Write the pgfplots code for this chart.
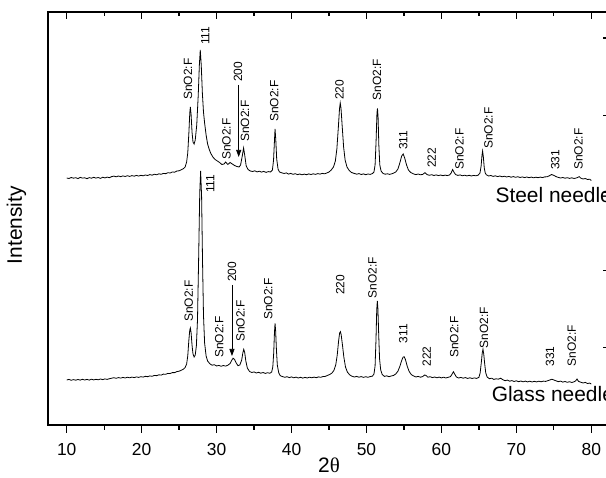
\documentclass[border=0pt]{standalone}
\usepackage{fontspec}
\setmainfont{Liberation Sans}
\newfontfamily\serifgr{Liberation Serif}
\usepackage{pgfplots}
\pgfplotsset{compat=1.18}
\usetikzlibrary{arrows.meta}

\begin{document}
\begin{tikzpicture}
\tikzset{lab/.style={rotate=90, anchor=west, inner sep=0pt, font=\fontsize{12}{14}\selectfont}}
\pgfplotsset{
  common/.style={
    scale only axis, width=562bp, height=413bp,
    xmin=7.5, xmax=82.5, ymin=0, ymax=413,
    xtick={10,20,...,80}, minor x tick num=1,
    major tick length=7.5bp, minor tick length=4.5bp,
    axis line style={line width=1.4bp},
    tick style={line width=1.3bp, black},
    minor tick style={line width=1.3bp, black},
    /pgf/number format/assume math mode=true,
    tick label style={font=\fontsize{17.5}{20}\selectfont},
  },
}
\begin{axis}[common, tick align=outside, xtick pos=left, ytick pos=left,
  ytick=\empty, minor ytick={77.4,154.8,232.2,309.6,387},
  xticklabel style={anchor=center, yshift=-17bp},
  xlabel={2{\serifgr θ}},
  xlabel style={at={(axis description cs:0.5,-0.097)}, anchor=center, font=\fontsize{21}{25}\selectfont},
  ylabel={Intensity},
  ylabel style={at={(axis description cs:-0.056,0.484)}, anchor=center, font=\fontsize{21}{25}\selectfont},
]
% Steel needle
\addplot[black, line width=0.8bp, mark=none] coordinates {
(10.0,247.0)(10.3,246.5)(10.6,247.5)(10.9,246.8)(11.2,247.3)(11.5,246.4)(11.8,247.6)(12.1,246.9)(12.4,247.2)(12.7,246.3)
(13.0,247.4)(13.3,246.8)(13.6,247.7)(13.9,246.9)(14.2,247.5)(14.5,246.6)(14.8,247.8)(15.1,247.1)(15.4,247.9)(15.7,247.3)
(16.0,248.4)(16.3,248.9)(16.6,248.2)(16.9,249.0)(17.2,248.3)(17.5,249.1)(17.8,248.5)(18.1,249.3)(18.4,248.6)(18.7,249.4)
(19.0,248.8)(19.3,249.6)(19.6,248.9)(19.9,249.7)(20.2,249.2)(20.5,250.0)(20.8,249.5)(21.1,250.4)(21.4,249.8)(21.7,250.8)
(22.0,250.2)(22.3,251.2)(22.6,250.7)(22.9,251.6)(23.2,251.3)(23.5,252.3)(23.8,252.0)(24.1,253.0)(24.4,252.8)(24.7,254.0)
(25.0,254.2)(25.3,255.3)(25.6,256.5)(25.8,258)(26.0,263)(26.15,272)(26.3,292)(26.42,312)(26.5,318)(26.6,310)
(26.72,293)(26.85,283)(27.0,281)(27.15,285)(27.35,300)(27.55,330)(27.7,360)(27.82,375)(27.95,360)(28.1,332)
(28.25,313)(28.4,302)(28.6,290)(28.8,281)(29.0,276)(29.2,272)(29.5,268)(29.8,265.5)(30.1,264)(30.4,262.5)
(30.7,260.5)(31.0,261)(31.2,263)(31.5,260.5)(31.8,262.5)(32.1,261)(32.4,259.5)(32.7,258.5)(33.0,258)(33.2,260)
(33.45,270)(33.6,277)(33.75,270)(33.95,259)(34.2,255.5)(34.5,254)(34.8,253.5)(35.1,254.2)(35.4,253.1)(35.7,253.8)
(36.0,252.9)(36.3,253.6)(36.6,252.6)(36.9,253.4)(37.2,253.0)(37.45,255)(37.6,265)(37.72,284)(37.8,296)(37.9,285)
(38.02,266)(38.2,256)(38.4,253)(38.7,252.2)(39.0,251.5)(39.3,252.1)(39.6,250.9)(39.9,251.6)(40.2,250.7)(40.5,251.3)
(40.8,250.4)(41.1,251.0)(41.4,250.2)(41.7,250.9)(42.0,250.3)(42.3,251.1)(42.6,250.5)(42.9,251.2)(43.2,250.6)(43.5,251.4)
(43.8,250.9)(44.1,251.6)(44.4,251.2)(44.7,252)(45.0,253)(45.3,255)(45.6,258)(45.85,264)(46.05,276)(46.25,298)
(46.4,316)(46.5,322)(46.6,317)(46.75,300)(46.95,278)(47.15,265)(47.4,258)(47.7,254.5)(48.0,252.5)(48.4,251.5)
(48.7,250.8)(49.0,251.4)(49.3,250.5)(49.6,251.1)(49.9,250.3)(50.2,251.0)(50.5,250.6)(50.8,251.5)(51.0,253)(51.15,260)
(51.28,283)(51.4,312)(51.47,316.5)(51.55,308)(51.65,280)(51.78,260)(51.95,254)(52.2,251.6)(52.5,250.8)(52.8,251.2)
(53.1,250.6)(53.5,251.5)(53.9,253)(54.2,256)(54.45,262)(54.7,269)(54.9,271)(55.1,267)(55.35,260)(55.6,255)
(55.9,252.5)(56.3,251)(56.6,250.4)(56.9,251.0)(57.2,250.2)(57.5,250.6)(57.8,252.3)(58.1,250.4)(58.4,249.7)(58.7,250.3)
(59.0,249.5)(59.3,250.1)(59.6,249.4)(59.9,250.0)(60.2,249.3)(60.5,249.9)(60.8,249.4)(61.1,250.1)(61.3,252)(61.5,255.5)
(61.7,252.5)(61.9,250.4)(62.2,249.6)(62.5,250.1)(62.8,249.2)(63.1,249.8)(63.4,249.1)(63.7,249.7)(64.0,249.0)(64.3,249.6)
(64.6,249.2)(64.9,249.8)(65.15,252)(65.3,259)(65.42,270)(65.5,274)(65.6,268)(65.72,257)(65.85,252)(66.0,250.2)
(66.3,249.0)(66.6,249.5)(66.9,248.6)(67.2,249.2)(67.5,248.4)(67.8,249.0)(68.1,248.2)(68.4,248.8)(68.7,248.0)(69.0,248.6)
(69.3,247.8)(69.6,248.4)(69.9,247.7)(70.2,248.3)(70.5,247.5)(70.8,248.1)(71.1,247.4)(71.4,248.0)(71.7,247.3)(72.0,247.9)
(72.3,247.2)(72.6,247.8)(72.9,247.3)(73.2,247.9)(73.5,247.4)(73.8,248.1)(74.1,248.2)(74.4,249.2)(74.7,250.5)(75.0,249.6)
(75.3,248.4)(75.6,247.6)(75.9,247.0)(76.2,247.5)(76.5,246.8)(76.8,247.3)(77.1,246.6)(77.4,247.2)(77.7,246.5)(78.0,247.0)
(78.2,247.6)(78.4,248.4)(78.6,246.9)(78.9,246.0)(79.2,246.5)(79.5,245.5)(79.8,245.8)(80.0,244.5)
};
% Glass needle
\addplot[black, line width=0.8bp, mark=none] coordinates {
(10.0,45.0)(10.3,45.6)(10.6,44.7)(10.9,45.4)(11.2,44.8)(11.5,45.5)(11.8,44.9)(12.1,45.7)(12.4,45.0)(12.7,45.6)
(13.0,44.9)(13.3,45.8)(13.6,45.1)(13.9,45.7)(14.2,45.2)(14.5,46.0)(14.8,45.4)(15.1,46.1)(15.4,45.6)(15.7,46.3)
(16.0,46.8)(16.3,47.3)(16.6,46.7)(16.9,47.4)(17.2,46.9)(17.5,47.6)(17.8,47.0)(18.1,47.8)(18.4,47.2)(18.7,47.9)
(19.0,47.4)(19.3,48.1)(19.6,47.6)(19.9,48.3)(20.2,47.9)(20.5,48.7)(20.8,48.3)(21.1,49.1)(21.4,48.7)(21.7,49.6)
(22.0,49.3)(22.3,50.2)(22.6,49.9)(22.9,50.9)(23.2,50.7)(23.5,51.6)(23.8,51.5)(24.1,52.4)(24.4,52.4)(24.7,53.4)
(25.0,53.8)(25.3,54.8)(25.6,56)(25.8,57.5)(26.0,61)(26.15,69)(26.3,85)(26.42,95)(26.5,97)(26.6,92)
(26.72,80)(26.85,71)(27.0,68)(27.15,70)(27.3,79)(27.45,105)(27.6,165)(27.75,232)(27.87,254)(28.0,228)
(28.12,165)(28.25,110)(28.4,82)(28.6,69)(28.8,64)(29.1,61.2)(29.4,59.8)(29.7,60.3)(30.0,59.0)(30.3,59.6)
(30.6,58.7)(30.9,59.5)(31.2,58.9)(31.5,59.8)(31.8,61.5)(32.0,64.5)(32.2,66.8)(32.4,65.5)(32.6,62.3)(32.85,59.3)
(33.1,60.0)(33.35,65)(33.5,72)(33.62,75.7)(33.75,72.5)(33.9,64)(34.1,57)(34.4,53.5)(34.7,52.5)(35.0,53.1)
(35.3,52.0)(35.6,52.7)(35.9,51.8)(36.2,52.5)(36.5,51.6)(36.8,52.3)(37.1,51.7)(37.35,53)(37.5,58)(37.62,72)
(37.72,92)(37.8,101.7)(37.88,94)(37.98,76)(38.1,60)(38.3,52)(38.5,49.3)(38.8,48.4)(39.1,47.7)(39.4,48.3)
(39.7,47.4)(40.0,48.1)(40.3,47.2)(40.6,47.9)(40.9,47.0)(41.2,47.7)(41.5,46.9)(41.8,47.6)(42.1,47.0)(42.4,47.8)
(42.7,47.2)(43.0,47.9)(43.3,47.3)(43.6,48.1)(43.9,47.7)(44.2,48.5)(44.5,48.6)(44.8,49.6)(45.1,50.5)(45.4,52)
(45.65,54.5)(45.9,60)(46.1,70)(46.28,84)(46.42,92)(46.52,93.3)(46.62,90.5)(46.78,81)(46.98,68)(47.2,58)
(47.45,53)(47.75,50.2)(48.05,48.8)(48.4,48.0)(48.7,48.6)(49.0,47.8)(49.3,48.4)(49.6,47.6)(49.9,48.3)(50.2,47.7)
(50.5,48.4)(50.8,48.9)(51.0,51)(51.15,59)(51.27,85)(51.37,115)(51.45,124)(51.53,116)(51.63,91)(51.75,66)
(51.9,55)(52.1,50.5)(52.4,48.6)(52.7,49.2)(53.0,48.3)(53.3,49.0)(53.6,49.5)(53.9,51)(54.2,53.8)(54.45,58.5)
(54.7,64.5)(54.88,67.8)(55.02,68.3)(55.2,65.5)(55.45,58.5)(55.7,53.5)(56.0,50.3)(56.3,49.0)(56.6,48.0)(56.9,48.6)
(57.2,47.8)(57.5,48.4)(57.75,50.0)(57.95,49.5)(58.2,47.8)(58.5,48.3)(58.8,47.4)(59.1,48.0)(59.4,47.2)(59.7,47.9)
(60.0,47.1)(60.3,47.8)(60.6,47.0)(60.9,47.7)(61.2,48.3)(61.4,50.5)(61.6,53.3)(61.8,50.6)(62.0,48.0)(62.3,47.0)
(62.6,47.6)(62.9,46.8)(63.2,47.4)(63.5,46.6)(63.8,47.2)(64.1,46.5)(64.4,47.1)(64.7,46.6)(65.0,47.6)(65.17,52)
(65.32,62)(65.45,72)(65.55,75.7)(65.65,71)(65.78,61)(65.92,52)(66.1,48.0)(66.4,46.3)(66.7,46.8)(67.0,45.6)
(67.3,46.2)(67.6,45.8)(67.9,46.8)(68.2,45.3)(68.5,44.3)(68.8,44.9)(69.1,43.8)(69.4,44.4)(69.7,43.5)(70.0,44.2)
(70.3,43.3)(70.6,44.0)(70.9,43.2)(71.2,43.9)(71.5,43.1)(71.8,43.8)(72.1,43.0)(72.4,43.7)(72.7,43.1)(73.0,43.8)
(73.3,43.2)(73.6,43.9)(73.9,43.6)(74.2,44.3)(74.5,45.1)(74.75,45.8)(75.0,45.0)(75.3,44.2)(75.6,43.3)(75.9,43.9)
(76.2,42.9)(76.5,43.5)(76.8,42.7)(77.1,43.3)(77.4,42.5)(77.7,43.2)(77.9,44.0)(78.1,46.0)(78.3,43.6)(78.6,42.8)
(78.9,42.0)(79.2,42.6)(79.5,41.5)(79.8,41.9)(80.0,41.0)
};
% Steel labels
\node[lab] at (axis cs:26.2,325) {SnO2:F};
\node[lab] at (axis cs:28.5,380) {111};
\node[lab] at (axis cs:31.33,265) {SnO2:F};
\node[lab] at (axis cs:32.85,343) {200};
\draw[line width=0.7bp, -{Triangle[length=7bp, width=5bp]}] (axis cs:32.95,340) -- (axis cs:32.95,268);
\node[lab] at (axis cs:33.8,283) {SnO2:F};
\node[lab] at (axis cs:37.7,303) {SnO2:F};
\node[lab] at (axis cs:46.4,325) {220};
\node[lab] at (axis cs:51.4,324.5) {SnO2:F};
\node[lab] at (axis cs:54.9,275) {311};
\node[lab] at (axis cs:58.7,257) {222};
\node[lab] at (axis cs:62.4,255) {SnO2:F};
\node[lab] at (axis cs:66.3,276) {SnO2:F};
\node[lab] at (axis cs:75.2,255) {331};
\node[lab] at (axis cs:78.3,255) {SnO2:F};
% Glass labels
\node[lab] at (axis cs:26.3,103) {SnO2:F};
\node[lab] at (axis cs:29.15,232) {111};
\node[lab] at (axis cs:30.35,67) {SnO2:F};
\node[lab] at (axis cs:32.05,143) {200};
\draw[line width=0.7bp, -{Triangle[length=7bp, width=5bp]}] (axis cs:32.05,140) -- (axis cs:32.05,69);
\node[lab] at (axis cs:33.2,83) {SnO2:F};
\node[lab] at (axis cs:36.9,105) {SnO2:F};
\node[lab] at (axis cs:46.5,130) {220};
\node[lab] at (axis cs:50.8,126.7) {SnO2:F};
\node[lab] at (axis cs:54.9,81.7) {311};
\node[lab] at (axis cs:58.05,58.3) {222};
\node[lab] at (axis cs:61.7,67) {SnO2:F};
\node[lab] at (axis cs:65.7,76.7) {SnO2:F};
\node[lab] at (axis cs:74.5,58.3) {331};
\node[lab] at (axis cs:77.4,58.3) {SnO2:F};
% Sample names
\node[anchor=west, inner sep=0pt, font=\fontsize{21}{25}\selectfont] at (axis cs:67.2,230) {Steel needle};
\node[anchor=west, inner sep=0pt, font=\fontsize{21}{25}\selectfont] at (axis cs:66.7,31) {Glass needle};
\end{axis}
\begin{axis}[common, tick align=inside, xtick pos=right, ytick pos=right, xticklabels={},
  ytick={77.4,154.8,232.2,309.6,387}, yticklabels={}]
\end{axis}
\pgfresetboundingbox
\useasboundingbox (-48bp,-53bp) rectangle (558bp,425bp);
\end{tikzpicture}
\end{document}
